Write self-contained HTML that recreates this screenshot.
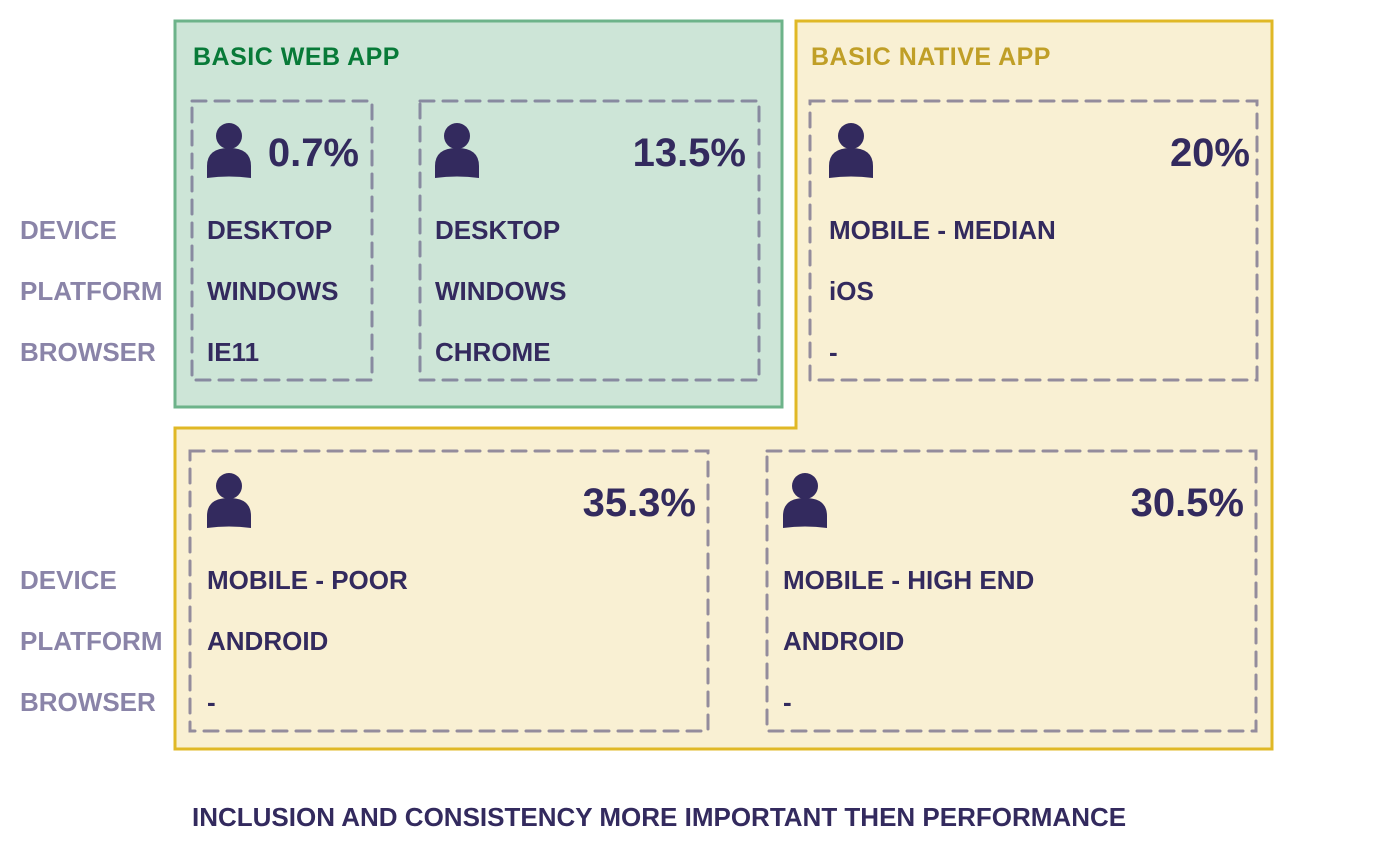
<!DOCTYPE html>
<html><head><meta charset="utf-8"><style>
html,body{margin:0;padding:0;background:#fff;}
svg{display:block;font-family:"Liberation Sans",sans-serif;font-weight:bold;}
</style></head><body>
<svg id="c" width="1399" height="860" viewBox="0 0 1399 860">
<polygon points="796,21 1272,21 1272,749 175,749 175,428 796,428" fill="#f9f0d3" stroke="#e0b826" stroke-width="3"/>
<rect x="175" y="21" width="607" height="386" fill="#cde5d7" stroke="#6db38a" stroke-width="3"/>
<text x="193" y="65" font-size="25" letter-spacing="0.5" fill="#087a38">BASIC WEB APP</text>
<text x="811" y="65" font-size="25" letter-spacing="0.5" fill="#c09f27">BASIC NATIVE APP</text>
<g id="rows"></g>
<g id="cards"></g>
<text x="192" y="826" font-size="26" fill="#332a5e">INCLUSION AND CONSISTENCY MORE IMPORTANT THEN PERFORMANCE</text>
</svg>
<script>
const NS="http://www.w3.org/2000/svg";
const rowLabels=["DEVICE","PLATFORM","BROWSER"];
const percents=["0.7%","13.5%","20%","35.3%","30.5%"];
const devices=["DESKTOP","DESKTOP","MOBILE - MEDIAN","MOBILE - POOR","MOBILE - HIGH END"];
const platforms=["WINDOWS","WINDOWS","iOS","ANDROID","ANDROID"];
const browsers=["IE11","CHROME","-","-","-"];
const boxes=[[192,101,372,380,"#888aa0",15,13],[420,101,759,380,"#888aa0",15,13],[810,101,1257,380,"#948c9c",19,7],[190,451,708,731,"#948c9c",17,12],[767,451,1256,731,"#948c9c",16,12]];
function mk(tag,attrs,parent,text){const e=document.createElementNS(NS,tag);for(const k in attrs)e.setAttribute(k,attrs[k]);if(text!==undefined)e.textContent=text;parent.appendChild(e);return e;}
const rows=document.getElementById('rows');
[101,451].forEach((top,bi)=>{rowLabels.forEach((l,i)=>{
 const t=mk('text',{x:20,y:top+138+i*61,'font-size':26,fill:'#8a84a8'},rows,l);
 
 
});});
const cards=document.getElementById('cards');
boxes.forEach((b,i)=>{
 const g=mk('g',{},cards);
 
 
 mk('rect',{x:b[0],y:b[1],width:b[2]-b[0],height:b[3]-b[1],fill:'none',stroke:b[4],'stroke-width':3,'stroke-dasharray':'14 9','stroke-linecap':'round'},g);
 const ix=b[0]+b[5], iy=b[1]+21;
 const ic=mk('g',{fill:'#332a5e'},g);
 
 
 mk('circle',{cx:ix+22,cy:iy+14,r:13},ic);
 mk('path',{d:`M${ix} ${iy+56} L${ix} ${iy+44} Q${ix} ${iy+26} ${ix+22} ${iy+26} Q${ix+44} ${iy+26} ${ix+44} ${iy+44} L${ix+44} ${iy+56} Q${ix+22} ${iy+53} ${ix} ${iy+56}Z`},ic);
 const p=mk('text',{x:b[2]-b[6],y:b[1]+65,'font-size':40,fill:'#332a5e','text-anchor':'end'},g,percents[i]);
 
 
 [devices[i],platforms[i],browsers[i]].forEach((v,j)=>{
  const t=mk('text',{x:b[0]+b[5],y:b[1]+138+j*61,'font-size':26,fill:'#332a5e'},g,v);
  
  
 });
});
</script>
</body></html>
